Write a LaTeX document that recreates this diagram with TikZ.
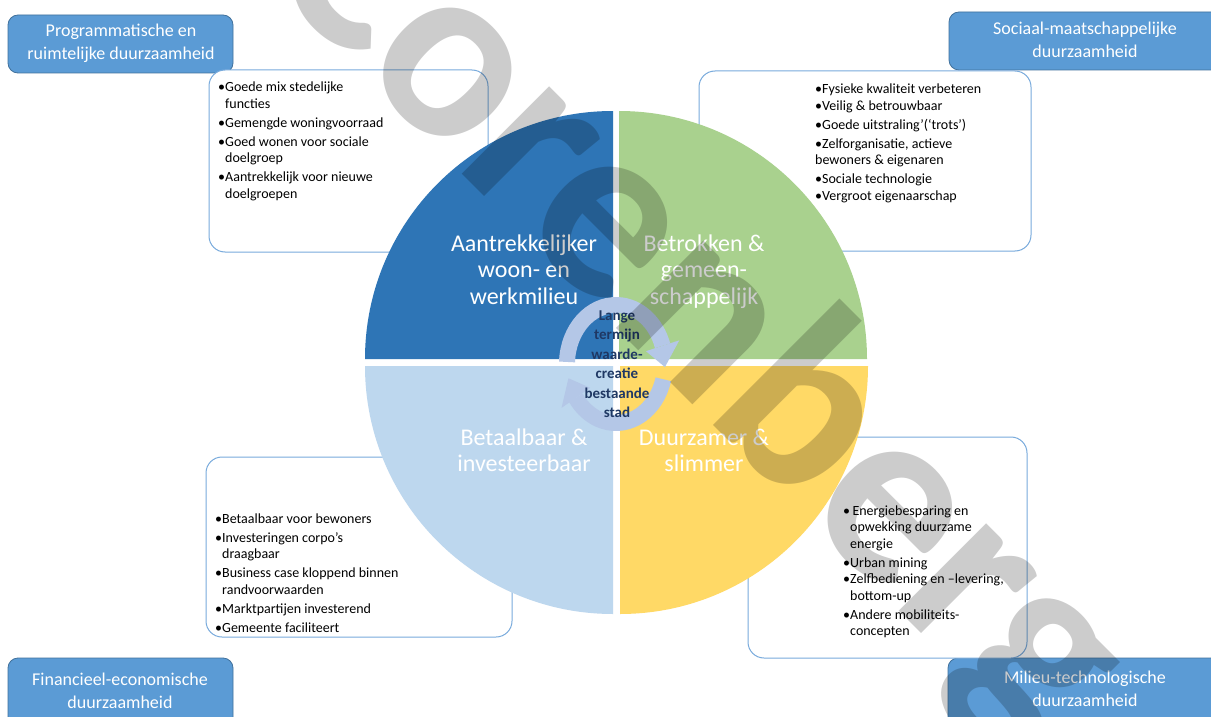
\documentclass[tikz,border=0pt]{standalone}
\usepackage{fontspec}
\setmainfont{Carlito}
\definecolor{cblue}{RGB}{46,117,182}
\definecolor{cgreen}{RGB}{169,209,142}
\definecolor{clight}{RGB}{189,215,238}
\definecolor{cyellow}{RGB}{255,217,102}
\definecolor{ctitle}{RGB}{91,155,213}
\definecolor{ctitleborder}{RGB}{65,113,156}
\definecolor{cboxline}{RGB}{120,170,220}
\definecolor{carrow}{RGB}{180,199,231}
\definecolor{cnavy}{RGB}{31,56,100}
\newcommand{\bu}{\makebox[7pt][l]{\textbullet}}
\newcommand{\ind}{\hspace*{7pt}}
\tikzset{
  titlebox/.style={draw=ctitleborder, line width=0.8pt, fill=ctitle, rounded corners=10pt},
  bulletbox/.style={draw=cboxline, line width=1pt, fill=white, rounded corners=16pt},
  titletext/.style={text=white, font=\fontsize{18}{23}\selectfont, inner sep=0pt, anchor=base},
  bullettext/.style={text=black, font=\fontsize{14}{16.5}\selectfont, inner sep=0pt, anchor=base west},
  quadtext/.style={text=white, font=\fontsize{24}{26.5}\selectfont, inner sep=0pt, anchor=base},
  centertext/.style={text=cnavy, font=\bfseries\fontsize{15}{19.5}\selectfont, inner sep=0pt, anchor=base},
  ringarrow/.style={draw=carrow, line width=16pt},
  watermark/.style={rotate=-45, anchor=base, inner sep=0pt, text=black, text opacity=0.2, font=\bfseries\fontsize{255}{255}\selectfont}
}
\begin{document}
\begin{tikzpicture}[x=1pt,y=1pt]
\useasboundingbox (0,0) rectangle (1211,-717);
\clip (0,0) rectangle (1211,-717);
\fill[white] (0,0) rectangle (1211,-717);

% title boxes
\draw[titlebox] (8,-15) rectangle (233,-73);
\draw[titlebox] (949,-12) rectangle (1230,-70);
\draw[titlebox] (8,-658) rectangle (233,-740);
\draw[titlebox] (948,-658) rectangle (1230,-740);
\node[titletext] (t1) at (121,-37) {\begin{tabular}[t]{@{}c@{}}Programmatische en\\ruimtelijke duurzaamheid\end{tabular}};
\node[titletext] (t2) at (1085,-35) {\begin{tabular}[t]{@{}c@{}}Sociaal-maatschappelijke\\duurzaamheid\end{tabular}};
\node[titletext] (t3) at (120,-685) {\begin{tabular}[t]{@{}c@{}}Financieel-economische\\duurzaamheid\end{tabular}};
\node[titletext] (t4) at (1085,-683) {\begin{tabular}[t]{@{}c@{}}Milieu-technologische\\duurzaamheid\end{tabular}};

% bullet boxes
\draw[bulletbox] (209,-70) rectangle (488,-252);
\draw[bulletbox] (699,-71) rectangle (1031,-251);
\draw[bulletbox] (206,-457) rectangle (512,-637);
\draw[bulletbox] (748,-437) rectangle (1027,-658);

\node[bullettext] (b1) at (218,-92) {\begin{tabular}[t]{@{}l@{}}
\bu Goede mix stedelijke\\
\ind functies\\[2.5pt]
\bu Gemengde\ woningvoorraad\\[2.5pt]
\bu Goed wonen voor sociale\\
\ind doelgroep\\[2.5pt]
\bu Aantrekkelijk\ voor nieuwe\\
\ind doelgroepen
\end{tabular}};

\node[bullettext] (b2) at (815,-93) {\begin{tabular}[t]{@{}l@{}}
\bu Fysieke kwaliteit\ verbeteren\\[1pt]
\bu Veilig\ \& betrouwbaar\\[2.5pt]
\bu Goede uitstraling’(‘trots’)\\[2.5pt]
\bu Zelforganisatie,\ actieve\\
bewoners \& eigenaren\\[2.5pt]
\bu Sociale technologie\\
\bu Vergroot eigenaarschap
\end{tabular}};

\node[bullettext] (b3) at (215,-523) {\begin{tabular}[t]{@{}l@{}}
\bu Betaalbaar\ voor bewoners\\[2.5pt]
\bu Investeringen\ corpo’s\\
\ind draagbaar\\[2.5pt]
\bu Business case kloppend binnen\\
\ind randvoorwaarden\\[2.5pt]
\bu Marktpartijen\ investerend\\[2.5pt]
\bu Gemeente\ faciliteert
\end{tabular}};

\node[bullettext] (b4) at (843,-515) {\begin{tabular}[t]{@{}l@{}}
\bu\,Energiebesparing\ en\\
\ind opwekking duurzame\\
\ind energie\\[2.5pt]
\bu Urban mining\\
\bu Zelfbediening\ en –levering,\\
\ind bottom-up\\[2.5pt]
\bu Andere mobiliteits-\\
\ind concepten
\end{tabular}};

% quadrants
\fill[cblue] (613,-359) -- (365,-359) arc[start angle=180, end angle=90, radius=248] -- cycle;
\fill[cgreen] (619,-359) -- (619,-111) arc[start angle=90, end angle=0, radius=248] -- cycle;
\fill[clight] (613,-366) -- (613,-614) arc[start angle=270, end angle=180, radius=248] -- cycle;
\fill[cyellow] (620,-366) -- (868,-366) arc[start angle=0, end angle=-90, radius=248] -- cycle;

\node[quadtext] (q1) at (524,-251) {\begin{tabular}[t]{@{}c@{}}Aantrekkelijker\\woon- en\\werkmilieu\end{tabular}};
\node[quadtext] (q2) at (704,-251) {\begin{tabular}[t]{@{}c@{}}Betrokken \&\\gemeen-\\schappelijk\end{tabular}};
\node[quadtext] (q3) at (524,-445) {\begin{tabular}[t]{@{}c@{}}Betaalbaar \&\\investeerbaar\end{tabular}};
\node[quadtext] (q4) at (704,-445) {\begin{tabular}[t]{@{}c@{}}Duurzamer \&\\slimmer\end{tabular}};

% circular arrows
\begin{scope}[shift={(616,-364)}]
  \draw[ringarrow] (178:49 and 59) arc[start angle=178, end angle=18, x radius=49, y radius=59];
  \fill[carrow] (18:31.5 and 41.5) -- (18:66.5 and 76.5) -- (-3:49 and 59) -- cycle;
  \draw[ringarrow] (-15:49 and 59) arc[start angle=-15, end angle=-145, x radius=49, y radius=59];
  \fill[carrow] (-145:31.5 and 41.5) -- (-145:66.5 and 76.5) -- (-166:49 and 59) -- cycle;
\end{scope}

\node[centertext] (c) at (617,-320) {\begin{tabular}[t]{@{}c@{}}Lange\\termijn\\waarde-\\creatie\\bestaande\\stad\end{tabular}};

% watermark
\node[watermark] (wm) at (649,-361) {Corenberg};
\end{tikzpicture}
\end{document}
